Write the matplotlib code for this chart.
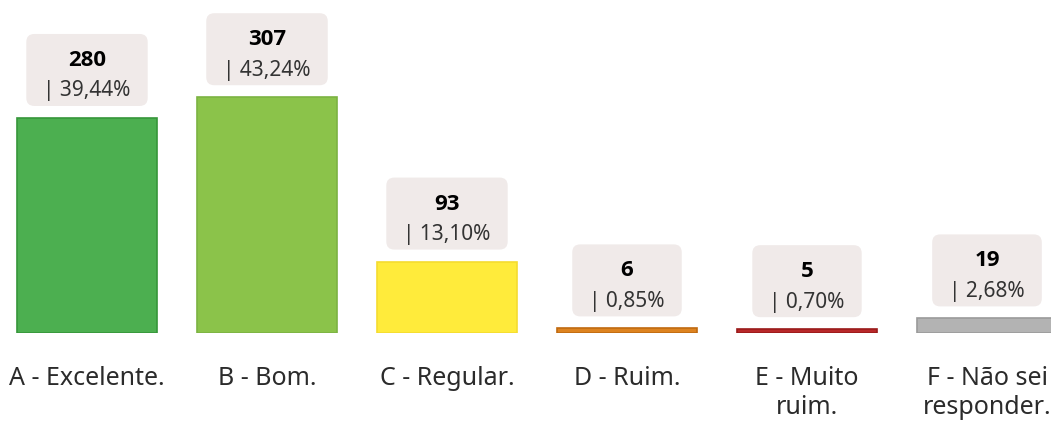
"""Bar chart of answers with value / percentage labels in rounded boxes."""

import matplotlib
matplotlib.use('Agg')
from matplotlib import pyplot
from matplotlib.patches import FancyBboxPatch

categories = ['A - Excelente.', 'B - Bom.', 'C - Regular.', 'D - Ruim.',
              'E - Muito\nruim.', 'F - Não sei\nresponder.']
counts = [280, 307, 93, 6, 5, 19]
percents = ['39,44%', '43,24%', '13,10%', '0,85%', '0,70%', '2,68%']

colors = ['#4caf50', '#8bc34a', '#ffeb3b', '#dd8320', '#b8282a', '#b3b3b3']
edges = ['#36963a', '#7cb342', '#f5dc30', '#c06a10', '#9a1a1a', '#9a9a9a']

pyplot.rc('font', family=['Noto Sans', 'DejaVu Sans'])
W, H, DPI = 1051, 425, 100
fig = pyplot.figure(figsize=(W / DPI, H / DPI), dpi=DPI)
ax = fig.add_axes([0, 92 / H, 1, 333 / H])
x = list(range(len(counts)))
ax.bar(x, counts, width=140 / 180, color=colors, edgecolor=edges, linewidth=1.2)
ax.set_xlim(-87 / 180, (W - 87) / 180)
ax.set_ylim(0, 333 / 0.768)
ax.axis('off')

px = 72 / DPI  # points per pixel
for xi, label in zip(x, categories):
    ax.annotate(label, xy=(xi, 0), xytext=(0, -33 * px), textcoords='offset points',
                ha='center', va='top', fontsize=18, color='#2b2b2b',
                linespacing=1.2, annotation_clip=False)

renderer = fig.canvas.get_renderer()
for xi, n, p in zip(x, counts, percents):
    t_num = ax.annotate(str(n), xy=(xi, n), xytext=(0, (12 + 45.5) * px),
                        textcoords='offset points', ha='center', va='center',
                        fontsize=16, fontweight='bold', color='black',
                        family=['Open Sans', 'Liberation Sans', 'DejaVu Sans'],
                        zorder=5, annotation_clip=False)
    t_pct = ax.annotate('| ' + p, xy=(xi, n), xytext=(0, (12 + 15) * px),
                        textcoords='offset points', ha='center', va='center',
                        fontsize=15, color='#333333', zorder=5, annotation_clip=False)
    w = max(t_num.get_window_extent(renderer).width,
            t_pct.get_window_extent(renderer).width) + 34
    cx, top = ax.transData.transform((xi, n))
    box = FancyBboxPatch(((cx - w / 2) / DPI, (top + 12) / DPI), w / DPI, 72 / DPI,
                         boxstyle='round,pad=0,rounding_size=0.08',
                         transform=fig.dpi_scale_trans, facecolor='#f0eae9',
                         edgecolor='none', zorder=3, clip_on=False)
    ax.add_patch(box)

fig.savefig('out.png', dpi=DPI)
